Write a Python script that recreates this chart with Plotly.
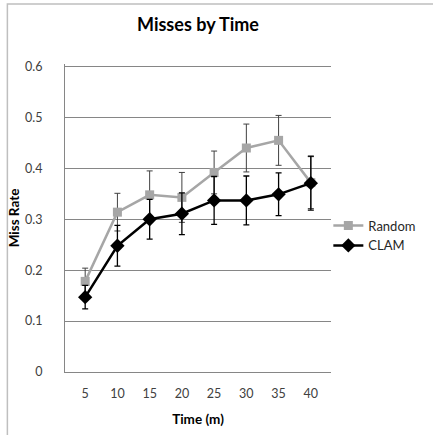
import plotly.graph_objects as go

times = ["5", "10", "15", "20", "25", "30", "35", "40"]

random_rate = [0.178, 0.314, 0.348, 0.343, 0.392, 0.440, 0.455, 0.372]
random_err = [0.026, 0.037, 0.047, 0.049, 0.042, 0.047, 0.049, 0.051]

clam_rate = [0.147, 0.248, 0.300, 0.311, 0.337, 0.337, 0.349, 0.371]
clam_err = [0.023, 0.040, 0.039, 0.041, 0.047, 0.048, 0.042, 0.053]

FONT = "Lato, 'Open Sans', sans-serif"

fig = go.Figure()

fig.add_trace(
    go.Scatter(
        x=times,
        y=random_rate,
        name="Random",
        mode="lines+markers",
        line=dict(color="#A6A6A6", width=2.5),
        marker=dict(symbol="square", size=9, color="#A6A6A6"),
        error_y=dict(type="data", array=random_err, color="#404040", thickness=1, width=3),
    )
)

fig.add_trace(
    go.Scatter(
        x=times,
        y=clam_rate,
        name="CLAM",
        mode="lines+markers",
        line=dict(color="black", width=2.5),
        marker=dict(symbol="diamond", size=11, color="black"),
        error_y=dict(type="data", array=clam_err, color="black", thickness=1.3, width=3),
    )
)

# outer chart frame (only top/left edges fall inside the window)
fig.add_shape(
    type="rect",
    xref="paper",
    yref="paper",
    x0=-0.2166,
    x1=1.6,
    y0=-0.4,
    y1=1.195,
    line=dict(color="#BFBFBF", width=1.5),
    layer="below",
)

fig.update_layout(
    width=433,
    height=435,
    margin=dict(l=65, r=91, t=64, b=63),
    paper_bgcolor="white",
    plot_bgcolor="white",
    font=dict(family=FONT, size=12, color="#404040"),
    title=dict(
        text="<b>Misses by Time</b>",
        x=0.5,
        xanchor="center",
        xref="paper",
        y=1 - 25 / 435,
        yanchor="middle",
        font=dict(size=18, color="black", family=FONT),
    ),
    legend=dict(
        x=0.99,
        y=0.443,
        xanchor="left",
        yanchor="middle",
        font=dict(size=13, color="#262626"),
        bgcolor="rgba(0,0,0,0)",
        itemwidth=30,
        tracegroupgap=0,
    ),
    xaxis=dict(
        type="category",
        title=dict(text="<b>Time (m)</b>", font=dict(size=13.5, color="black"), standoff=14),
        showgrid=False,
        showline=True,
        linecolor="#868686",
        linewidth=1,
        ticks="",
        ticklabelstandoff=10,
        tickfont=dict(size=12.5, color="#404040"),
    ),
    yaxis=dict(
        title=dict(text="<b>Miss Rate</b>", font=dict(size=13.5, color="black"), standoff=2),
        range=[0, 0.605],
        tickvals=[0, 0.1, 0.2, 0.3, 0.4, 0.5, 0.6],
        ticktext=["0", "0.1", "0.2", "0.3", "0.4", "0.5", "0.6"],
        showgrid=True,
        gridcolor="#868686",
        gridwidth=1,
        showline=True,
        linecolor="#868686",
        zeroline=False,
        ticks="",
        ticklabelstandoff=19,
        tickfont=dict(size=12.5, color="#404040"),
    ),
)

fig.write_html(
    "out.html",
    config={"displayModeBar": False},
    post_script="document.body.style.margin='0';",
)
